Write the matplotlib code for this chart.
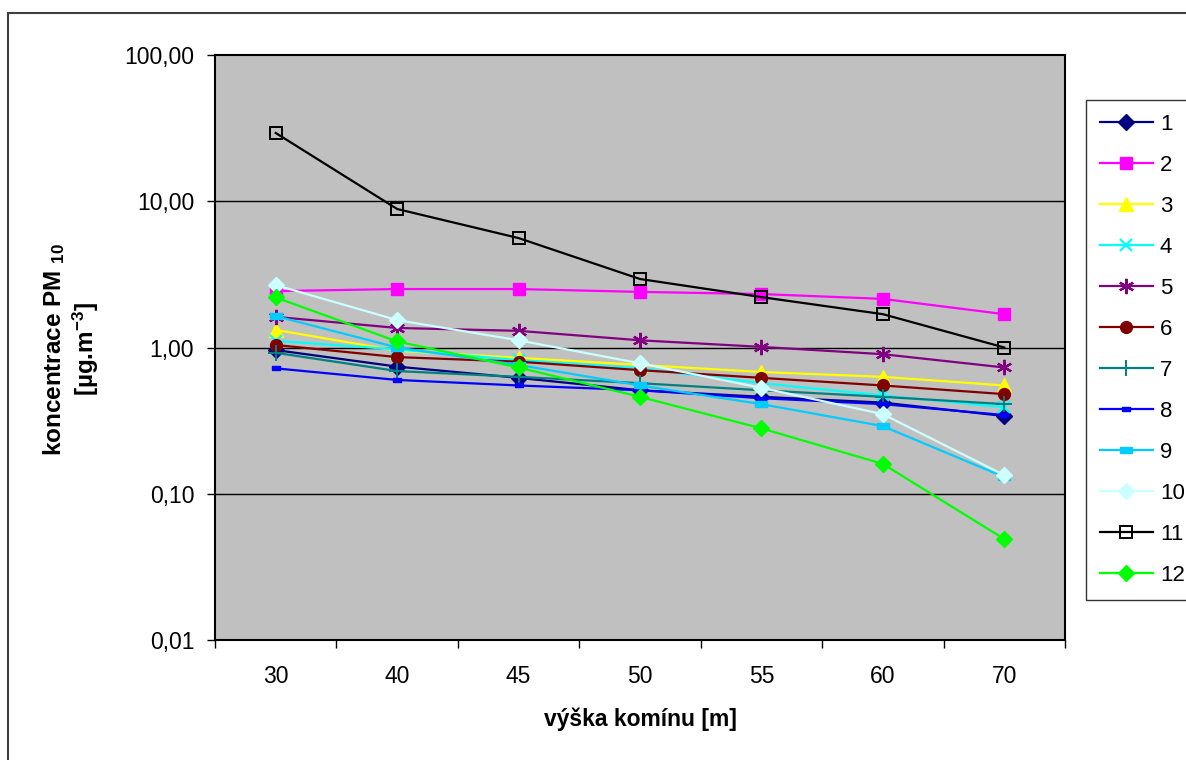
import matplotlib
matplotlib.use("Agg")
import matplotlib.pyplot as plt
import matplotlib.ticker as mticker
from matplotlib.patches import Rectangle
import numpy as np

plt.rcParams['font.family'] = ['Liberation Sans', 'DejaVu Sans']
plt.rcParams['mathtext.default'] = 'regular'

heights = ["30", "40", "45", "50", "55", "60", "70"]
series_names = ["1", "2", "3", "4", "5", "6", "7", "8", "9", "10", "11", "12"]

s1 = [0.96, 0.74, 0.62, 0.51, 0.46, 0.42, 0.34]
s2 = [2.43, 2.51, 2.51, 2.40, 2.32, 2.15, 1.69]
s3 = [1.32, 0.95, 0.85, 0.76, 0.68, 0.63, 0.55]
s4 = [1.11, 0.97, 0.82, 0.72, 0.57, 0.47, 0.39]
s5 = [1.62, 1.36, 1.30, 1.12, 1.01, 0.90, 0.73]
s6 = [1.04, 0.86, 0.80, 0.70, 0.62, 0.55, 0.48]
s7 = [0.92, 0.69, 0.63, 0.57, 0.51, 0.46, 0.41]
s8 = [0.72, 0.60, 0.55, 0.51, 0.45, 0.41, 0.345]
s9 = [1.64, 1.00, 0.76, 0.55, 0.41, 0.29, 0.13]
s10 = [2.67, 1.54, 1.12, 0.78, 0.53, 0.35, 0.134]
s11 = [29.3, 8.85, 5.60, 2.94, 2.21, 1.69, 1.00]
s12 = [2.20, 1.10, 0.73, 0.46, 0.28, 0.16, 0.049]

values = [s1, s2, s3, s4, s5, s6, s7, s8, s9, s10, s11, s12]

dash_small = [(-1, -0.45), (1, -0.45), (1, 0.45), (-1, 0.45), (-1, -0.45)]
styles = [
    dict(color='#000080', marker='D', ms=8, mfc='#000080', mec='#000080'),
    dict(color='#FF00FF', marker='s', ms=8.5, mfc='#FF00FF', mec='#FF00FF'),
    dict(color='#FFFF00', marker='^', ms=10, mfc='#FFFF00', mec='#FFFF00'),
    dict(color='#00FFFF', marker='x', ms=8.5, mew=1.6, mec='#00FFFF'),
    dict(color='#800080', marker=(6, 2, 0), ms=11, mew=1.6, mec='#800080'),
    dict(color='#800000', marker='o', ms=8.5, mfc='#800000', mec='#800000'),
    dict(color='#008080', marker='+', ms=11, mew=1.4, mec='#008080'),
    dict(color='#0000FF', marker=dash_small, ms=6, mfc='#0000FF', mec='#0000FF'),
    dict(color='#00CCFF', marker=dash_small, ms=9, mfc='#00CCFF', mec='#00CCFF'),
    dict(color='#CCFFFF', marker='D', ms=8.5, mfc='#CCFFFF', mec='#CCFFFF'),
    dict(color='#000000', marker='s', ms=8, mfc='none', mec='#000000', mew=1.4),
    dict(color='#00FF00', marker='D', ms=8, mfc='#00FF00', mec='#00FF00'),
]

W, H = 1186, 760
fig = plt.figure(figsize=(W / 100, H / 100), dpi=100)
fig.patch.set_facecolor('white')

# outer chart-area border
fig.patches.append(Rectangle((8 / W, 0.0 - 0.01), 1.05, 1 - 13 / H + 0.01,
                             transform=fig.transFigure, fill=False,
                             edgecolor='#404040', lw=1.5, zorder=0))

ax = fig.add_axes([215 / W, 1 - 640 / H, 850 / W, 585 / H])
ax.set_facecolor('#C0C0C0')
ax.set_yscale('log')
ax.set_ylim(0.01, 100)
ax.set_xlim(-0.5, len(heights) - 0.5)

x = np.arange(len(heights))
for name, vals, st in zip(series_names, values, styles):
    ax.plot(x, vals, lw=1.6, label=name, **st)

# grid
for v in [0.1, 1, 10]:
    ax.axhline(v, color='black', lw=1.0, zorder=0.5)

# y ticks
ax.yaxis.set_major_locator(mticker.FixedLocator([0.01, 0.1, 1, 10, 100]))
ax.yaxis.set_minor_locator(mticker.NullLocator())
ax.set_yticklabels(["0,01", "0,10", "1,00", "10,00", "100,00"])
ax.tick_params(axis='y', which='major', direction='out', length=6, width=1,
               pad=9, labelsize=16.5)

# x ticks: boundaries as major (no labels), category labels as minor
ax.xaxis.set_major_locator(mticker.FixedLocator(np.arange(-0.5, len(heights), 1.0)))
ax.xaxis.set_major_formatter(mticker.NullFormatter())
ax.xaxis.set_minor_locator(mticker.FixedLocator(x))
ax.xaxis.set_minor_formatter(mticker.FixedFormatter(heights))
ax.tick_params(axis='x', which='major', direction='out', length=6, width=1)
ax.tick_params(axis='x', which='minor', length=0, pad=18, labelsize=16.5)

for sp in ax.spines.values():
    sp.set_linewidth(1.5)
    sp.set_color('black')

fig.text(640 / W, 1 - 719 / H, "výška komínu [m]", ha='center', va='center',
         fontsize=16.5, fontweight='bold')
fig.text(71 / W, 1 - 349 / H, "koncentrace PM $_{10}$\n[µg.m$^{-3}$]",
         ha='center', va='center', rotation=90, fontsize=17.5,
         fontweight='bold', multialignment='center', linespacing=1.15)

leg = ax.legend(loc='upper left', bbox_to_anchor=(1086 / W, 1 - 100 / H),
                bbox_transform=fig.transFigure, fontsize=16, frameon=True,
                fancybox=False, edgecolor='black', handlelength=2.4,
                handletextpad=0.3, labelspacing=0.9, borderpad=0.62,
                borderaxespad=0.0)
leg.get_frame().set_linewidth(1.0)

fig.savefig("out.png", dpi=100, facecolor='white')
